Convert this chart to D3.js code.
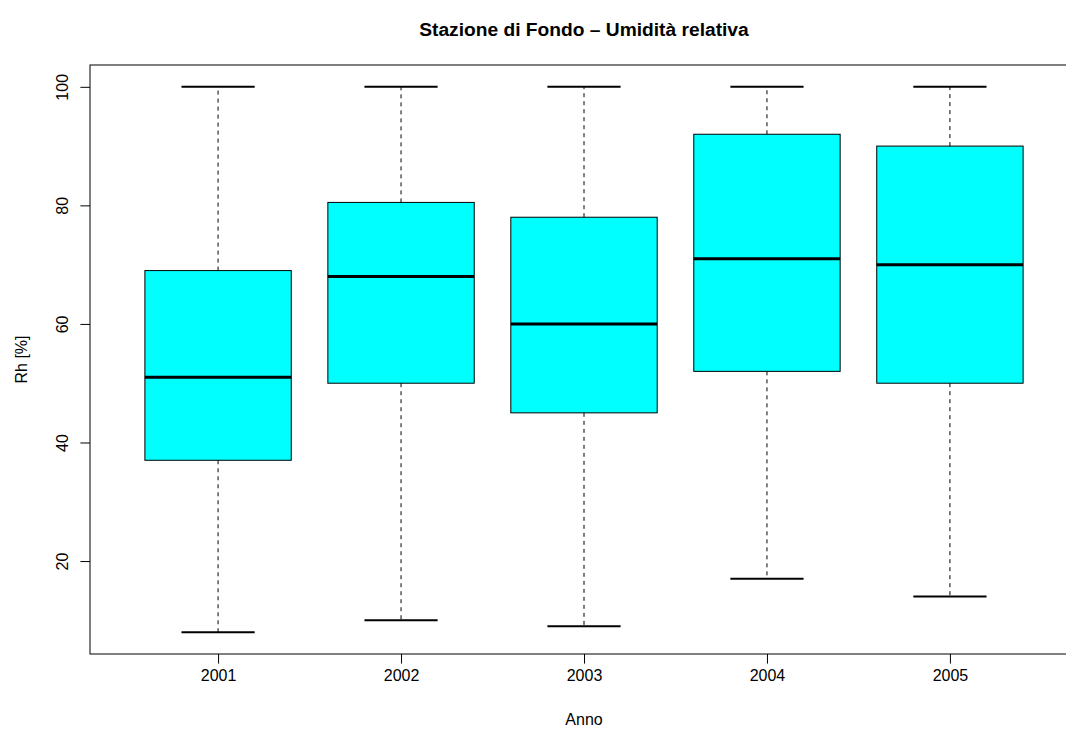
<!DOCTYPE html>
<html>
<head>
<meta charset="utf-8">
<script src="https://cdn.jsdelivr.net/npm/d3@7"></script>
<style>
  html, body { margin: 0; padding: 0; background: #fff; }
  svg { display: block; font-family: "Liberation Sans", Arial, sans-serif; }
</style>
</head>
<body>
<svg id="chart" width="1066" height="731"></svg>
<script>
const years   = ["2001", "2002", "2003", "2004", "2005"];
const mins    = [8, 10, 9, 17, 14];
const q1s     = [37, 50, 45, 52, 50];
const medians = [51, 68, 60, 71, 70];
const q3s     = [69, 80.5, 78, 92, 90];
const maxs    = [100, 100, 100, 100, 100];
const yTicks  = [20, 40, 60, 80, 100];
const title   = "Stazione di Fondo \u2013 Umidit\u00e0 relativa";
const xLabel  = "Anno";
const yLabel  = "Rh [%]";

const data = years.map((y, i) => ({
  year: y, idx: i + 1, min: mins[i], q1: q1s[i], med: medians[i], q3: q3s[i], max: maxs[i]
}));

const L = 90, R = 1078, T = 65, B = 654;
const svg = d3.select("#chart");

const n = years.length;
const x = d3.scaleLinear().domain([0.5 - 0.04 * n, n + 0.5 + 0.04 * n]).range([L, R]);
const yMin = d3.min(mins), yMax = d3.max(maxs), ext = (yMax - yMin) * 0.04;
const y = d3.scaleLinear().domain([yMin - ext, yMax + ext]).range([B, T]);

const unit = x(2) - x(1);
const boxW = 0.8 * unit;
const stapleW = 0.5 * boxW;

const g = svg.append("g");

// whiskers (dashed)
g.selectAll("line.wlow").data(data).enter().append("line")
  .attr("x1", d => x(d.idx)).attr("x2", d => x(d.idx))
  .attr("y1", d => y(d.q1)).attr("y2", d => y(d.min))
  .attr("stroke", "#000").attr("stroke-width", 1).attr("stroke-dasharray", "4,4");
g.selectAll("line.whigh").data(data).enter().append("line")
  .attr("x1", d => x(d.idx)).attr("x2", d => x(d.idx))
  .attr("y1", d => y(d.q3)).attr("y2", d => y(d.max))
  .attr("stroke", "#000").attr("stroke-width", 1).attr("stroke-dasharray", "4,4");

// staples
["min", "max"].forEach(k => {
  g.selectAll("line.staple-" + k).data(data).enter().append("line")
    .attr("x1", d => x(d.idx) - stapleW / 2).attr("x2", d => x(d.idx) + stapleW / 2)
    .attr("y1", d => y(d[k])).attr("y2", d => y(d[k]))
    .attr("stroke", "#000").attr("stroke-width", 2);
});

// boxes
g.selectAll("rect.box").data(data).enter().append("rect")
  .attr("x", d => x(d.idx) - boxW / 2).attr("width", boxW)
  .attr("y", d => y(d.q3)).attr("height", d => y(d.q1) - y(d.q3))
  .attr("fill", "#00ffff").attr("stroke", "#000").attr("stroke-width", 1);

// medians
g.selectAll("line.med").data(data).enter().append("line")
  .attr("x1", d => x(d.idx) - boxW / 2).attr("x2", d => x(d.idx) + boxW / 2)
  .attr("y1", d => y(d.med)).attr("y2", d => y(d.med))
  .attr("stroke", "#000").attr("stroke-width", 3);

// frame
svg.append("rect").attr("x", L).attr("y", T).attr("width", R - L).attr("height", B - T)
  .attr("fill", "none").attr("stroke", "#000").attr("stroke-width", 1);

// axes
const xAxis = d3.axisBottom(x).tickValues(data.map(d => d.idx))
  .tickFormat(v => years[v - 1]).tickSize(9.6).tickPadding(6);
const xg = svg.append("g").attr("transform", `translate(0,${B})`).call(xAxis);
xg.select(".domain").remove();
xg.selectAll("text").attr("font-size", 16).attr("fill", "#000")
  .attr("font-family", "Liberation Sans, Arial, sans-serif");
xg.selectAll("line").attr("stroke", "#000");

const yAxis = d3.axisLeft(y).tickValues(yTicks).tickSize(9.6).tickPadding(0);
const yg = svg.append("g").attr("transform", `translate(${L},0)`).call(yAxis);
yg.select(".domain").remove();
yg.selectAll("line").attr("stroke", "#000");
yg.selectAll("text")
  .attr("font-size", 16).attr("fill", "#000")
  .attr("font-family", "Liberation Sans, Arial, sans-serif")
  .attr("x", null).attr("dy", null).attr("y", 0)
  .attr("text-anchor", "middle")
  .attr("transform", `translate(${67.5 - L},0) rotate(-90)`);

// titles
svg.append("text").attr("x", (L + R) / 2).attr("y", 36)
  .attr("text-anchor", "middle").attr("font-size", 19.2).attr("font-weight", "bold")
  .text(title);
svg.append("text").attr("x", (L + R) / 2).attr("y", 725)
  .attr("text-anchor", "middle").attr("font-size", 16).text(xLabel);
svg.append("text").attr("transform", `translate(27,${(T + B) / 2}) rotate(-90)`)
  .attr("text-anchor", "middle").attr("font-size", 16).text(yLabel);
</script>
</body>
</html>
